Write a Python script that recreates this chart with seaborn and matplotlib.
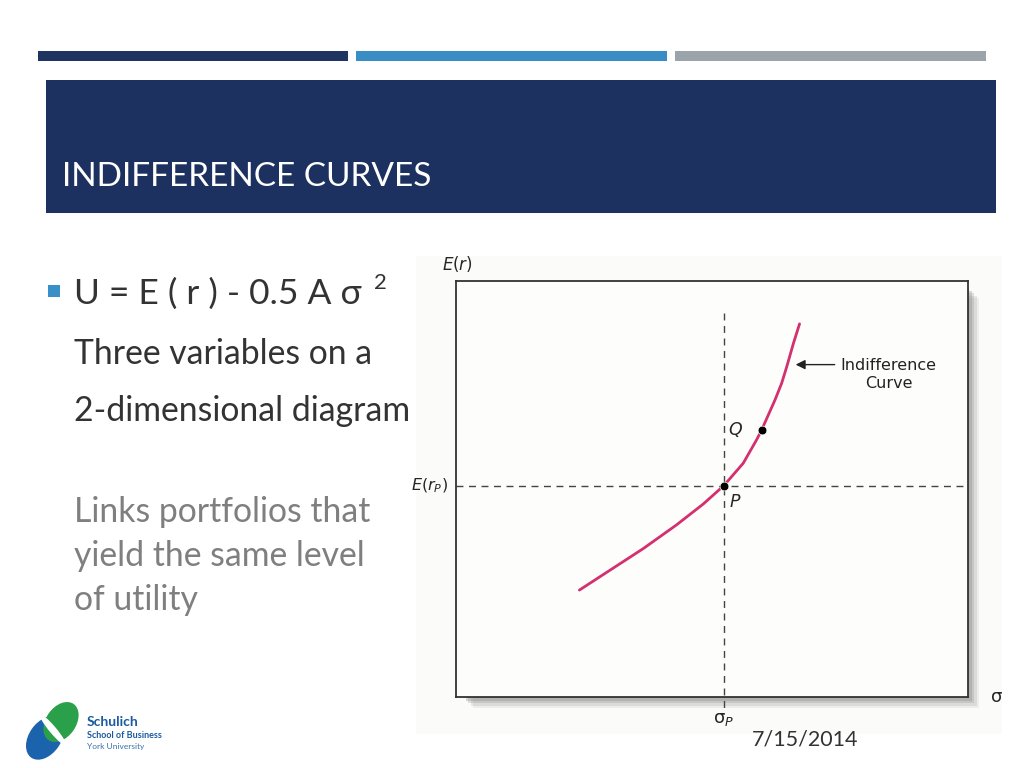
import numpy as np
import pandas as pd
import seaborn as sns
import matplotlib.pyplot as plt
from matplotlib.patches import Rectangle, Ellipse

# indifference curve (both axes scaled 0-100)
curve_sigma = [24.1, 30.1, 36.6, 43.1, 48.3, 52.3, 56.1, 58.7, 59.7, 62.3, 63.6, 64.6, 65.9, 67.1]
curve_er = [25.7, 30.5, 35.7, 41.4, 46.4, 50.8, 56.2, 61.8, 64.2, 71.4, 75.4, 79.4, 85.0, 89.7]
point_names = ['P', 'Q']
point_sigma = [52.3, 59.7]
point_er = [50.8, 64.2]

title = 'INDIFFERENCE CURVES'
formula = 'U = E ( r ) - 0.5 A σ'
sub_lines = ['Three variables on a', '2-dimensional diagram']
note_lines = ['Links portfolios that', 'yield the same level', 'of utility']
date_text = '7/15/2014'

curve_df = pd.DataFrame({'sigma': curve_sigma, 'er': curve_er})
pts_df = pd.DataFrame({'name': point_names, 'sigma': point_sigma, 'er': point_er})

sns.set_theme(style='white')
plt.rcParams['font.family'] = ['Lato', 'DejaVu Sans']
plt.rcParams['mathtext.fontset'] = 'dejavusans'

fig = plt.figure(figsize=(10.24, 7.68), dpi=100)
fig.patch.set_facecolor('white')

# full-figure axes in pixel coords for the slide furniture
bg = fig.add_axes([0, 0, 1, 1])
bg.set_xlim(0, 1024)
bg.set_ylim(768, 0)
bg.axis('off')

for x0, x1, c in [(38, 348, '#1f3461'), (356, 667, '#3a8cc4'), (675, 986, '#9ba3ab')]:
    bg.add_patch(Rectangle((x0, 51), x1 - x0, 10, color=c, lw=0))
bg.add_patch(Rectangle((46, 80), 950, 133, color='#1c3160', lw=0))
bg.text(62, 177, title, color='white', fontsize=24, va='center')

# bullet + text
bg.add_patch(Rectangle((48, 285), 12, 12, color='#3a8fc8', lw=0))
bg.text(74, 294, formula, fontsize=25.5, color='#333333', va='center')
bg.text(374, 283, '2', fontsize=16, color='#333333', va='center')
for i, line in enumerate(sub_lines):
    bg.text(74, 354 + i * 57, line, fontsize=24.3, color='#333333', va='center')
for i, line in enumerate(note_lines):
    bg.text(74, 512 + i * 44, line, fontsize=24.3, color='#7f7f7f', va='center')

bg.text(752, 740, date_text, fontsize=15.5, color='#333333', va='center')

# logo
bg.add_patch(Ellipse((45, 738), 32, 48, angle=35, color='#1b64ad', lw=0))
bg.add_patch(Ellipse((61, 722), 30, 44, angle=35, color='#2aa04a', lw=0))
bg.add_patch(Ellipse((53, 730), 7, 40, angle=-40, color='white', lw=0))
bg.text(87, 722, 'Schulich', fontsize=10, fontweight='bold', color='#1a5aa0', va='center')
bg.text(87, 736, 'School of Business', fontsize=6.5, fontweight='bold', color='#1a5aa0', va='center')
bg.text(87, 746, 'York University', fontsize=6, color='#3a6fb0', va='center')

# picture backdrop and drop shadow
bg.add_patch(Rectangle((416, 256), 586, 478, color='#fbfbf9', lw=0))
for k, a in enumerate([0.12, 0.18, 0.25, 0.32, 0.4]):
    off = 15 - k * 2.5
    bg.add_patch(Rectangle((458 + off, 283 + off), 512 - 6, 416 - 6, color='#8a8a8a', alpha=a, lw=0))

ax = fig.add_axes([456 / 1024, 71 / 768, 512 / 1024, 416 / 768])
ax.set_facecolor('#fdfdfc')
ax.set_xlim(0, 100)
ax.set_ylim(0, 100)
ax.set_xticks([])
ax.set_yticks([])
for s in ax.spines.values():
    s.set_color('#333333')
    s.set_linewidth(1.3)

# reference dashes through P
ax.plot([point_sigma[0]] * 2, [92.4, -3], ls=(0, (5, 4)), color='#444444', lw=1, clip_on=False)
ax.plot([0, 99.5], [point_er[0]] * 2, ls=(0, (5, 4)), color='#444444', lw=1)

sns.lineplot(data=curve_df, x='sigma', y='er', sort=False, color='#d4306e', lw=2, ax=ax,
             solid_capstyle='round', solid_joinstyle='round')
sns.scatterplot(data=pts_df, x='sigma', y='er', color='black', s=40, zorder=5, ax=ax)
ax.set_xlabel('')
ax.set_ylabel('')

ax.text(point_sigma[0] + 1.2, point_er[0] - 4, 'P', fontsize=12.5, style='italic', va='center', family='DejaVu Sans')
ax.text(point_sigma[1] - 6.5, point_er[1], 'Q', fontsize=12.5, style='italic', va='center', family='DejaVu Sans')

ax.annotate('', xy=(65.8, 79.9), xytext=(74.5, 79.9),
            arrowprops=dict(arrowstyle='-|>', color='#222222', lw=1, mutation_scale=14))
ax.text(84.5, 77.5, 'Indifference\nCurve', fontsize=11.5, ha='center', va='center',
        color='#222222', linespacing=1.2, family='DejaVu Sans')

ax.text(-2.8, 104, '$E(r)$', fontsize=12, va='center', ha='left')
ax.text(-1.5, point_er[0], '$E(r_P)$', fontsize=11.5, va='center', ha='right')
ax.text(104.5, 0, 'σ', fontsize=13, va='center', ha='left', family='DejaVu Sans')
ax.text(point_sigma[0], -5.5, r'$\mathrm{\sigma}_P$', fontsize=13, va='center', ha='center')

fig.savefig('out.png', dpi=100)
